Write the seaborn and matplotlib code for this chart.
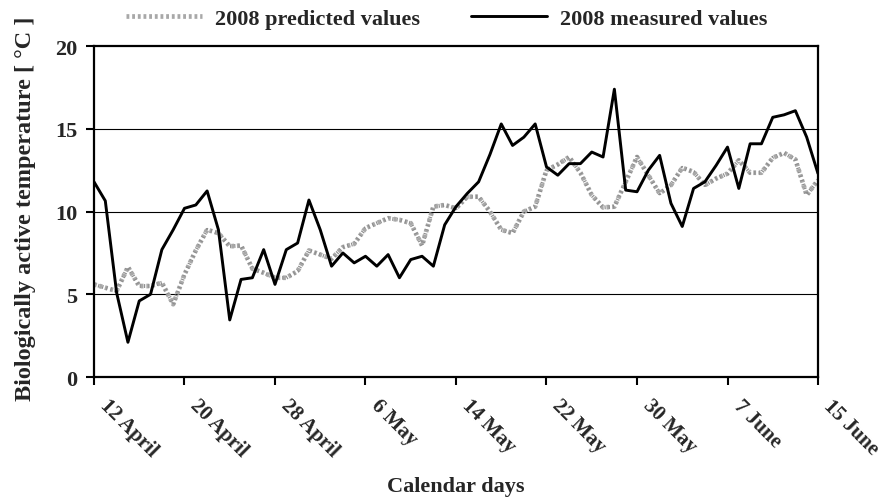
import numpy as np
import pandas as pd
import seaborn as sns
import matplotlib.pyplot as plt
import matplotlib.transforms as mtransforms

# daily values, 12 April .. 15 June 2008
days = list(range(65))
measured = [11.8, 10.65, 5.1, 2.1, 4.6, 5.0, 7.7, 8.9, 10.2, 10.4,
            11.25, 8.9, 3.45, 5.9, 6.0, 7.7, 5.6, 7.7, 8.1, 10.7,
            8.9, 6.7, 7.5, 6.9, 7.3, 6.7, 7.4, 6.0, 7.1, 7.3,
            6.7, 9.2, 10.3, 11.1, 11.8, 13.45, 15.3, 14.0, 14.5, 15.3,
            12.7, 12.2, 12.9, 12.9, 13.6, 13.3, 17.4, 11.3, 11.2, 12.5,
            13.4, 10.5, 9.1, 11.4, 11.8, 12.8, 13.9, 11.4, 14.1, 14.1,
            15.7, 15.85, 16.1, 14.5, 12.3]
predicted = [5.6, 5.4, 5.2, 6.65, 5.5, 5.5, 5.7, 4.4, 6.2, 7.65,
             8.9, 8.7, 7.9, 7.95, 6.55, 6.3, 6.0, 6.0, 6.4, 7.65,
             7.4, 7.15, 7.85, 8.05, 9.0, 9.3, 9.6, 9.5, 9.3, 7.95,
             10.3, 10.4, 10.2, 10.9, 10.9, 10.0, 8.9, 8.7, 10.0, 10.3,
             12.5, 12.85, 13.3, 12.35, 11.0, 10.25, 10.3, 11.8, 13.3, 12.2,
             11.1, 11.6, 12.65, 12.4, 11.6, 12.0, 12.3, 13.1, 12.35, 12.35,
             13.25, 13.55, 13.15, 11.0, 11.9]
tick_days = list(range(0, 65, 8))
tick_labels = ['12 April', '20 April', '28 April', '6 May', '14 May',
               '22 May', '30 May', '7 June', '15 June']

df = pd.DataFrame({'day': days, 'measured': measured, 'predicted': predicted})

sns.set_style('white')
plt.rcParams['font.family'] = ['Liberation Serif', 'DejaVu Serif']
plt.rcParams['font.weight'] = 'bold'

fig = plt.figure(figsize=(8.85, 5.02), dpi=100)
ax = fig.add_axes([0.1062, 0.247, 0.8181, 0.659])

# textured grey line for the prediction: light base + dotted darker overlay
sns.lineplot(df, x='day', y='predicted', ax=ax, color='#e0e0e0', lw=3.4,
             label='2008 predicted values')
sns.lineplot(df, x='day', y='predicted', ax=ax, color='#8e8e8e', lw=2.8,
             dashes=False, linestyle=(0, (0.3, 0.8)), legend=False)
sns.lineplot(df, x='day', y='measured', ax=ax, color='black', lw=2.1,
             label='2008 measured values')

ax.set_xlim(0, 64)
ax.set_ylim(0, 20)
ax.set_yticks([0, 5, 10, 15, 20])
ax.set_yticklabels(['0', '5', '10', '15', '20'], fontsize=16, fontweight='bold')
ax.set_xticks(tick_days)
ax.set_xticklabels(tick_labels, fontsize=15, fontweight='bold',
                   rotation=-45, ha='left', va='top', rotation_mode='anchor')
ax.tick_params(axis='both', direction='out', length=6, width=1.5, color='black',
               bottom=True, left=True)
ax.tick_params(axis='x', pad=7)
ax.tick_params(axis='y', pad=6)
# nudge the rotated date labels to the right (after tick_params, which resets transforms)
shift = mtransforms.ScaledTranslation(16 / 100, 0, fig.dpi_scale_trans)
for lab in ax.get_xticklabels():
    lab.set_transform(lab.get_transform() + shift)
for y in [5, 10, 15]:
    ax.axhline(y, color='black', lw=0.8, zorder=0)
for s in ax.spines.values():
    s.set_visible(True)
    s.set_color('black')
    s.set_linewidth(1.6)

ax.set_xlabel('Calendar days', fontsize=16, fontweight='bold')
ax.set_ylabel('Biologically active temperature [ °C ]', fontsize=17.5,
              fontweight='bold')
ax.xaxis.set_label_coords(0.5, -0.30)
ax.yaxis.set_label_coords(-0.08, 0.51)

handles, labels = ax.get_legend_handles_labels()
ax.legend_.remove()
handles[0].set_color('#a8a8a8')
handles[0].set_linestyle((0, (0.6, 0.6)))
fig.legend(handles, labels, loc='upper center', bbox_to_anchor=(0.505, 1.022),
           ncol=2, frameon=False, prop={'size': 16, 'weight': 'bold'},
           handlelength=3.4, handletextpad=0.6, columnspacing=2.3)

fig.savefig('out.png', dpi=100)
